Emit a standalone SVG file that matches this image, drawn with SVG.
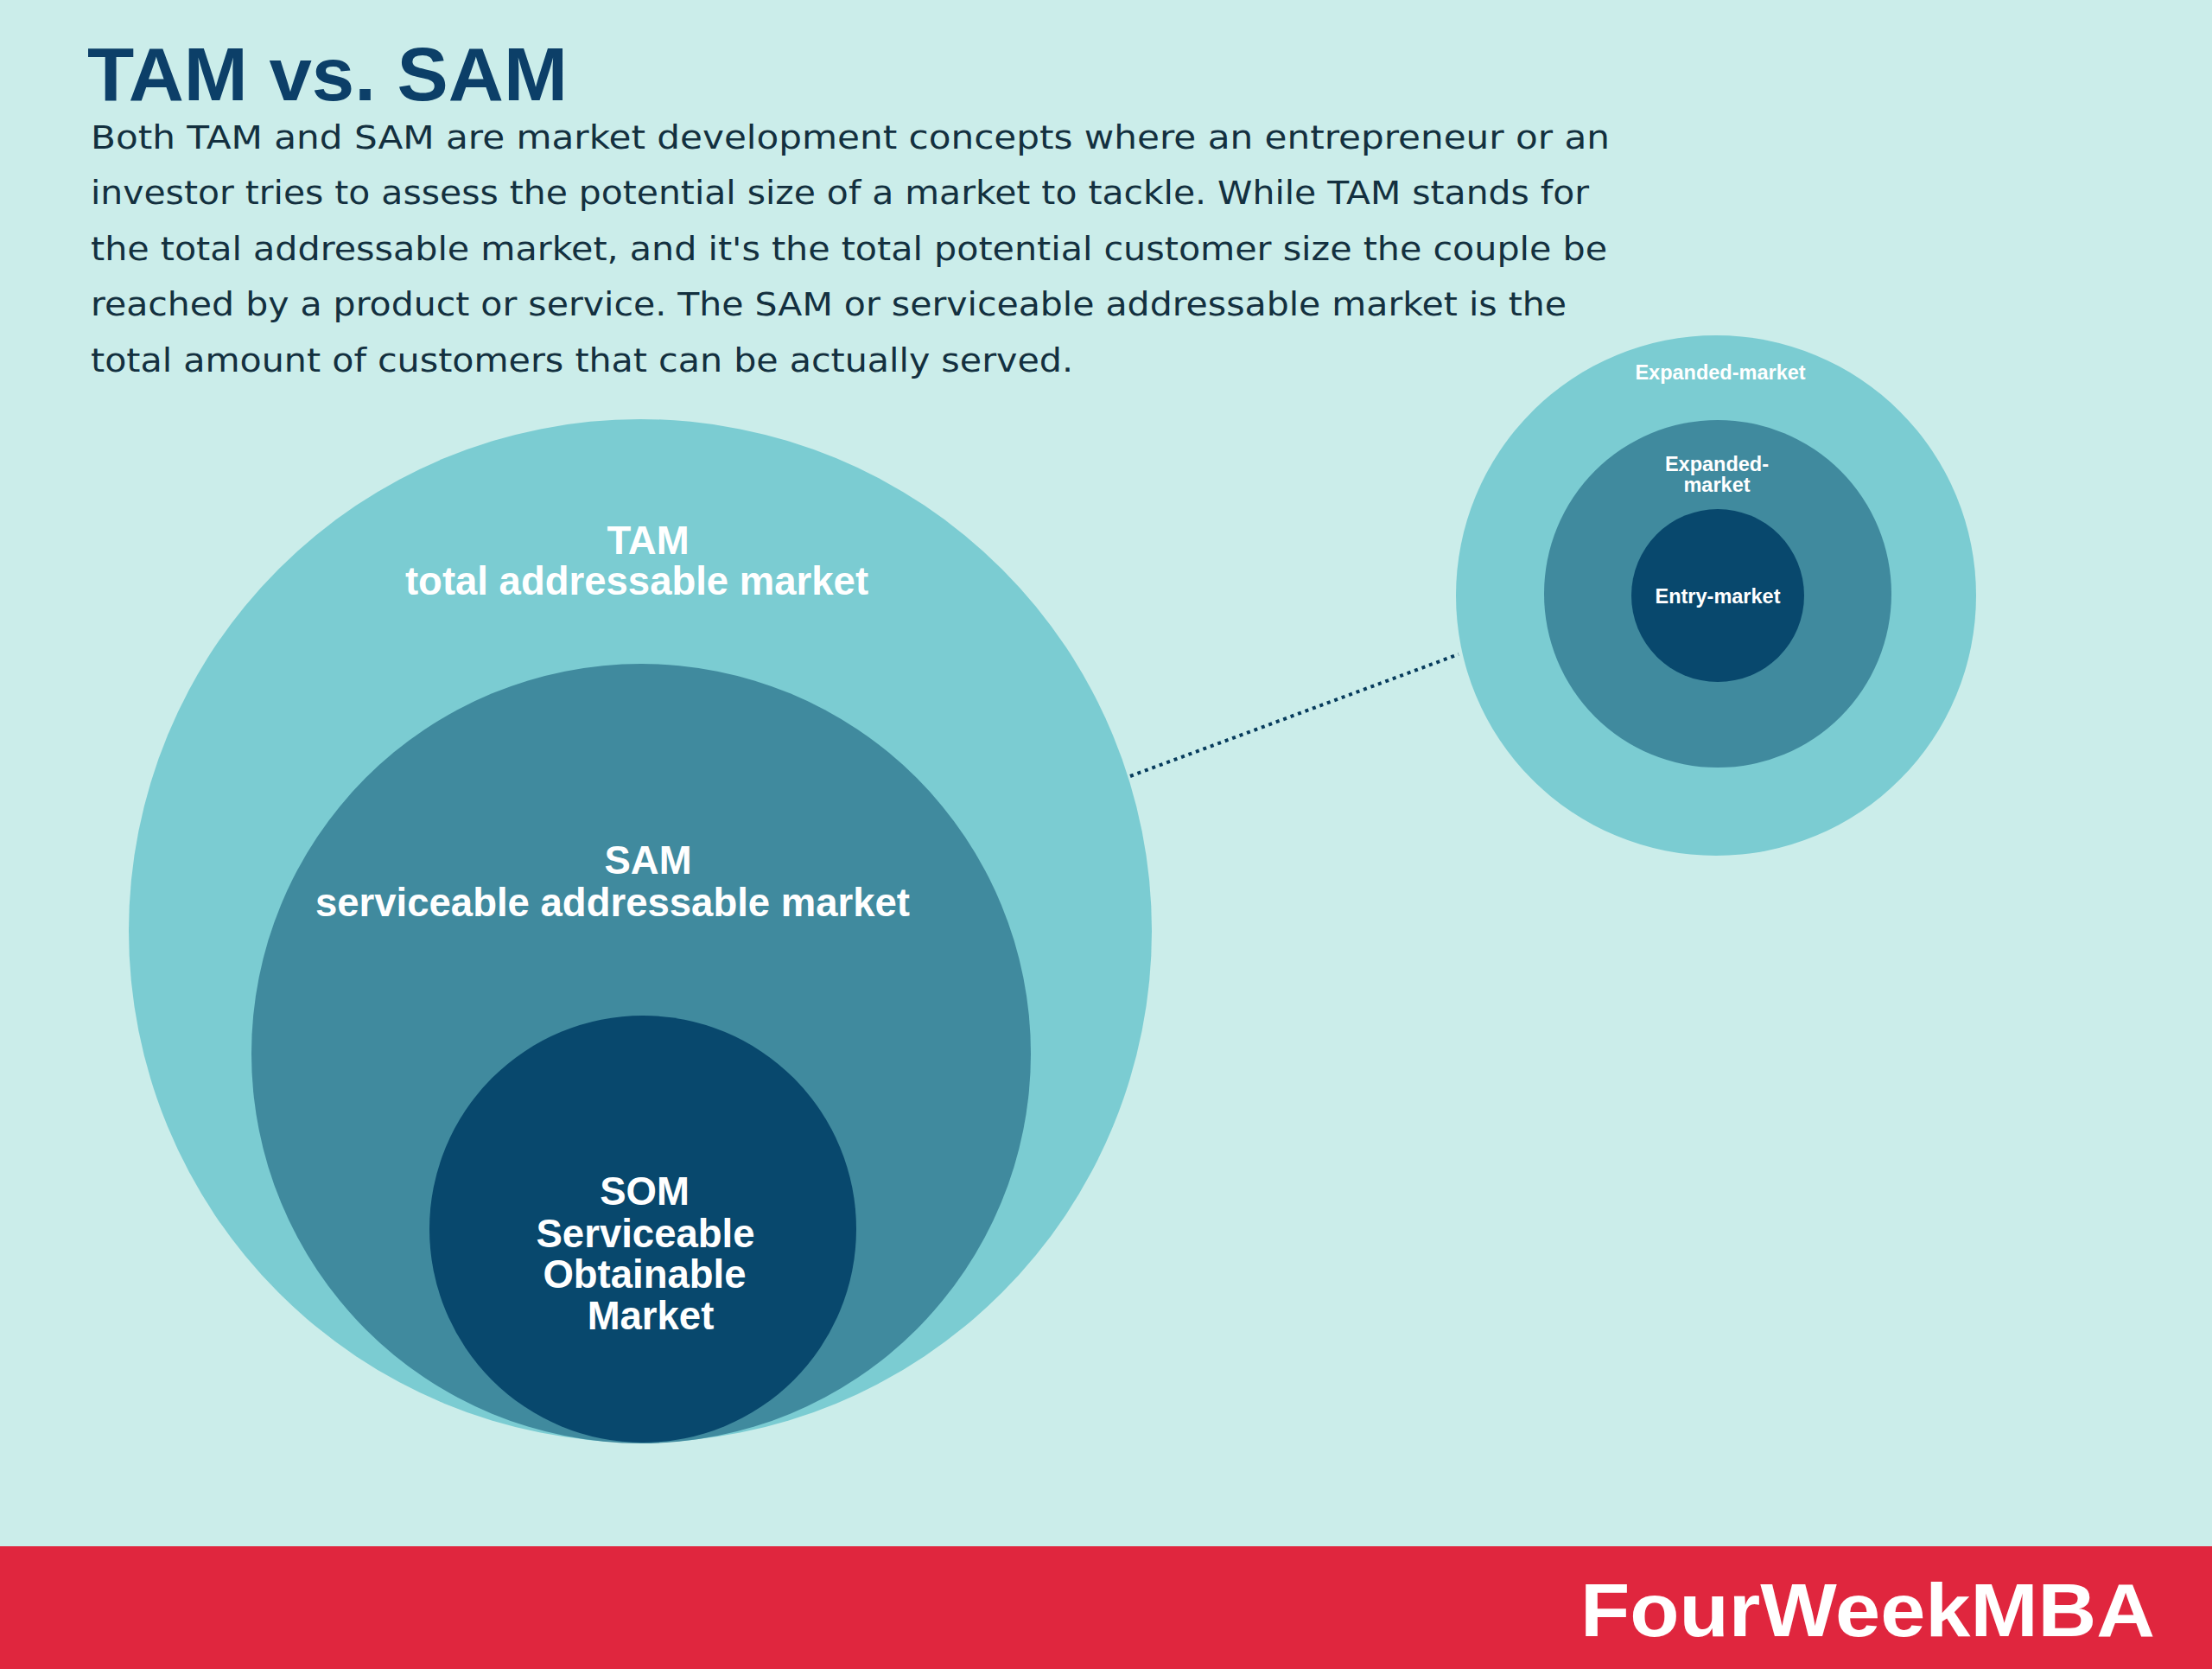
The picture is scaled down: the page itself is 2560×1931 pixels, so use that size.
<svg xmlns="http://www.w3.org/2000/svg" width="2560" height="1931" viewBox="0 0 2560 1931">
<style>
.bg{fill:#CBEDEA}
.c1{fill:#7BCCD2}
.c2{fill:#408A9E}
.c3{fill:#08486D}
.lbl{font-family:"Liberation Sans",Arial,sans-serif;font-weight:bold;fill:#ffffff;text-anchor:middle}
.big{font-size:45.5px}
.small{font-size:23.5px}
.body{font-family:"DejaVu Sans","Liberation Sans",sans-serif;font-size:37px;fill:#13303f}
.title{font-family:"Liberation Sans",Arial,sans-serif;font-weight:bold;font-size:87px;fill:#0c3f68}
.conn{stroke:#073b5c;stroke-width:4;stroke-dasharray:4 5;fill:none}
</style>
<rect class="bg" x="0" y="0" width="2560" height="1931"/>
<text class="title" x="101" y="116" textLength="556" lengthAdjust="spacingAndGlyphs">TAM vs. SAM</text>
<g id="description">
<text class="body" x="105" y="172" textLength="1758" lengthAdjust="spacingAndGlyphs">Both TAM and SAM are market development concepts where an entrepreneur or an</text>
<text class="body" x="105" y="236" textLength="1734" lengthAdjust="spacingAndGlyphs">investor tries to assess the potential size of a market to tackle. While TAM stands for</text>
<text class="body" x="105" y="301" textLength="1755" lengthAdjust="spacingAndGlyphs">the total addressable market, and it's the total potential customer size the couple be</text>
<text class="body" x="105" y="365" textLength="1708" lengthAdjust="spacingAndGlyphs">reached by a product or service. The SAM or serviceable addressable market is the</text>
<text class="body" x="105" y="430" textLength="1137" lengthAdjust="spacingAndGlyphs">total amount of customers that can be actually served.</text>
</g>
<g id="connectors">
<line class="conn" x1="1308" y1="898" x2="1688" y2="757"/>
</g>
<g id="node-tam">
<circle class="c1" cx="741" cy="1077" r="592"/>
<text class="lbl big" x="750" y="641">TAM</text>
<text class="lbl big" x="737" y="688">total addressable market</text>
</g>
<g id="node-sam">
<circle class="c2" cx="742" cy="1219" r="451"/>
<text class="lbl big" x="750" y="1011">SAM</text>
<text class="lbl big" x="709" y="1060">serviceable addressable market</text>
</g>
<g id="node-som">
<circle class="c3" cx="744" cy="1422" r="247"/>
<text class="lbl big" x="746" y="1394">SOM</text>
<text class="lbl big" x="747" y="1443">Serviceable</text>
<text class="lbl big" x="746" y="1490">Obtainable</text>
<text class="lbl big" x="753" y="1538">Market</text>
</g>
<g id="node-expanded-outer">
<circle class="c1" cx="1986" cy="689" r="301"/>
<text class="lbl small" x="1991" y="439">Expanded-market</text>
</g>
<g id="node-expanded-inner">
<circle class="c2" cx="1988" cy="687" r="201"/>
<text class="lbl small" x="1987" y="545">Expanded-</text>
<text class="lbl small" x="1987" y="569">market</text>
</g>
<g id="node-entry">
<circle class="c3" cx="1988" cy="689" r="100"/>
<text class="lbl small" x="1988" y="698">Entry-market</text>
</g>
<g id="footer">
<rect x="0" y="1789" width="2560" height="142" fill="#E0263E"/>
<text x="1829" y="1893" font-family="'Liberation Sans',Arial,sans-serif" font-weight="bold" font-size="88" fill="#ffffff" textLength="665" lengthAdjust="spacingAndGlyphs">FourWeekMBA</text>
</g>
</svg>
